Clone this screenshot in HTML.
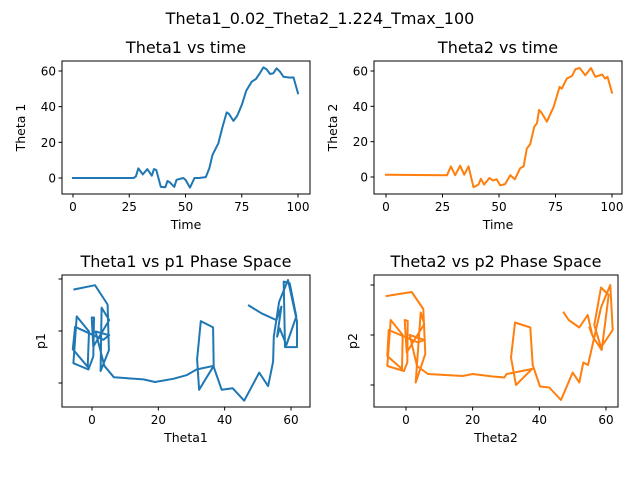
<!DOCTYPE html>
<html><head><meta charset="utf-8"><style>
body{margin:0;background:#fff;}
svg{display:block;font-family:"DejaVu Sans","Liberation Sans",sans-serif;}
</style></head><body>
<svg id="fig" width="640" height="480" viewBox="0 0 640 480"></svg>
<script>
// Theta1 vs time
const t1 = [0,27,28,29,31,33,35,36,37,39,41,42,43,45,46,49,50,52,54,56,59,60.6,62,64.6,66.5,68.3,69.3,71.3,73,75,77,79.4,81.3,83,84.6,86,87.6,89,90.5,92,93.5,96.4,98,100];
const theta1 = [0,0,1,5.4,2,5,1.3,5,4.5,-5,-5.2,-1.7,-2.4,-5,-1,0,-1,-5.4,0,0,0.5,5.4,13,19.4,28.8,36.8,36,32,35,41,49,54,55.5,58.7,62,61,58.3,58.7,61.5,59.6,56.8,56.3,56.4,47.5];
// Theta2 vs time
const t2 = [0,27,28.7,30.6,32.8,34.6,36.5,38.7,40.9,42,43.4,45.8,47.3,49,50.5,52.7,55,57,59.4,60.9,62.3,63.8,65.6,66.8,67.7,68.7,71.2,74.2,76.8,77.8,80,82.3,83.8,85.7,88.2,90.7,92.6,95.6,97,98,100];
const theta2 = [1.3,1,6,1,6.4,1.3,6,-5.8,-4.3,-1,-4.3,-0.5,-2,-1.3,-4.7,-4,1,-1.3,5,6,16,18.6,28.5,30.4,37.9,36.6,31.3,39.8,51,50,55.7,57.2,61,61.7,57.6,61.7,56.7,58,55.7,56.7,47.8];
// Phase space
const phTheta = [-5.3,0.9,4.7,5.1,2.6,2.9,5.2,0.4,-0.1,0.6,0.4,-1.1,-5.6,-4.6,-0.9,-1.3,-5.8,-5.1,3.4,5.2,1.1,3.7,6.6,15.5,19.0,24.5,28.5,31.5,36.7,32.3,31.7,32.8,36.5,36.7,39.1,42.4,45.9,50.4,53.1,54.6,54.8,56.4,59.1,61.8,61.8,58.2,57.8,59.6,61.6,58.6,56.6,55.8,57.1,55.6,51.1,47.3];
const phP = [0.80,0.88,0.51,-0.37,-0.77,0.45,0.21,-0.30,0.26,0.26,-0.49,-0.74,-0.62,0.28,-0.01,-0.69,-0.35,0.08,-0.17,-0.08,-0.01,-0.67,-0.89,-0.93,-0.98,-0.92,-0.85,-0.74,-0.67,-1.13,-0.54,0.19,0.07,-0.69,-1.13,-1.10,-1.34,-0.80,-1.06,-0.59,-0.11,0.56,0.98,0.18,-0.31,-0.31,0.95,0.92,0.28,-0.27,0.05,-0.11,0.47,0.21,0.34,0.49];
const phTheta2 = [-5.8,1.7,5.2,5.8,2.9,4.4,5.5,0.2,-0.4,0.5,0.4,-0.6,-5.6,-4.6,-1.0,-1.2,-5.6,-5.2,3.6,5.5,1.1,3.3,6.6,17,20,26,29.5,30.2,37.8,33,31.5,32.7,37.3,38,40.2,43,46.5,50,52,53.2,54.6,58.5,61.3,62,58.5,56.5,58.5,60.8,58.7,56.2,55,55.8,54.5,52,48.8,47.3];
const phP2 = [0.78,0.86,0.52,-0.38,-0.95,0.45,0.22,-0.35,0.30,0.28,-0.55,-0.72,-0.62,0.30,0.00,-0.68,-0.42,0.10,-0.15,-0.10,0.00,-0.62,-0.78,-0.82,-0.78,-0.83,-0.85,-0.78,-0.68,-1.00,-0.45,0.25,0.15,-0.60,-1.03,-1.05,-1.30,-0.75,-0.95,-0.55,-0.60,0.55,1.00,0.10,-0.25,0.20,0.95,0.80,-0.30,-0.05,0.15,0.02,0.40,0.15,0.30,0.45];

const NS='http://www.w3.org/2000/svg';
const svg=document.getElementById('fig');
function mk(tag,attrs,parent){const e=document.createElementNS(NS,tag);for(const k in attrs)e.setAttribute(k,attrs[k]);(parent||svg).appendChild(e);return e;}
function txt(s,x,y,size,anchor,rot,name){const e=mk('text',{x:x,y:y,'font-size':size,'text-anchor':anchor,fill:'#000'});if(rot)e.setAttribute('transform','rotate(-90 '+x+' '+y+')');e.textContent=s;


return e;}

function panel(o){
  const g=mk('g',{});
  
  
  const sx=v=>o.x0px+(v-o.x0)*(o.x1px-o.x0px)/(o.x1-o.x0);
  const sy=v=>o.y0px+(v-o.y0)*(o.y1px-o.y0px)/(o.y1-o.y0);
  let d='';
  for(let i=0;i<o.xs.length;i++)d+=(i?'L':'M')+sx(o.xs[i]).toFixed(1)+' '+sy(o.ys[i]).toFixed(1);
  const p=mk('path',{d:d,fill:'none',stroke:o.color,'stroke-width':2,'stroke-linejoin':'round','stroke-linecap':'square'},g);
  
  
  const fr=mk('rect',{x:o.L,y:o.T,width:o.R-o.L,height:o.B-o.T,fill:'none',stroke:'#000','stroke-width':1},g);
  
  
  o.xt.forEach(v=>{const x=sx(v);mk('line',{x1:x,x2:x,y1:o.B,y2:o.B+3.5,stroke:'#000','stroke-width':1},g);
    txt(String(v),x,o.B+17,12,'middle',false,o.name+'-xtick');});
  o.yt.forEach(v=>{const y=sy(v);mk('line',{x1:o.L-3.5,x2:o.L,y1:y,y2:y,stroke:'#000','stroke-width':1},g);
    if(o.ylab)txt(String(v),o.L-6,y+4.5,12,'end',false,o.name+'-ytick');});
  txt(o.title,(o.L+o.R)/2,o.T-8,16,'middle',false,o.name+'-title');
  txt(o.xl,(o.L+o.R)/2,o.B+35,12.5,'middle',false,o.name+'-x-label');
  txt(o.yl,o.ylx,(o.T+o.B)/2,12.5,'middle',true,o.name+'-y-label');
}
txt('Theta1_0.02_Theta2_1.224_Tmax_100',320,24,16,'middle',false,'figure-title');
panel({name:'theta1-time',xs:t1,ys:theta1,color:'#1f77b4',L:62,R:310,T:61,B:194,x0:0,x1:100,x0px:73,x1px:298,y0:0,y1:60,y0px:178,y1px:71,xt:[0,25,50,75,100],yt:[0,20,40,60],ylab:true,title:'Theta1 vs time',xl:'Time',yl:'Theta 1',ylx:25});
panel({name:'theta2-time',xs:t2,ys:theta2,color:'#ff7f0e',L:374,R:622,T:61,B:194,x0:0,x1:100,x0px:386,x1px:612,y0:0,y1:60,y0px:177,y1px:71,xt:[0,25,50,75,100],yt:[0,20,40,60],ylab:true,title:'Theta2 vs time',xl:'Time',yl:'Theta 2',ylx:337});
panel({name:'theta1-phase',xs:phTheta,ys:phP,color:'#1f77b4',L:62,R:310,T:275,B:407,x0:0,x1:60,x0px:92,x1px:291,y0:0,y1:1,y0px:331,y1px:279,xt:[0,20,40,60],yt:[-1,0,1],ylab:false,title:'Theta1 vs p1 Phase Space',xl:'Theta1',yl:'p1',ylx:45});
panel({name:'theta2-phase',xs:phTheta2,ys:phP2,color:'#ff7f0e',L:374,R:618,T:275,B:407,x0:0,x1:60,x0px:406,x1px:606,y0:0,y1:1,y0px:335,y1px:285,xt:[0,20,40,60],yt:[-1,0,1],ylab:false,title:'Theta2 vs p2 Phase Space',xl:'Theta2',yl:'p2',ylx:357});
</script>
</body></html>
